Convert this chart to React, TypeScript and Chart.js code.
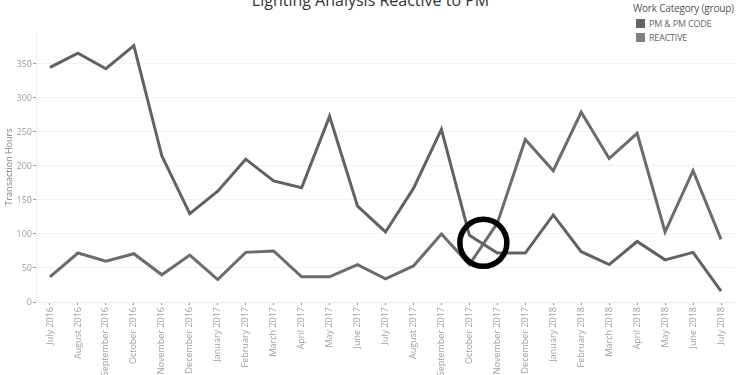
import React, { useEffect, useRef } from "react";
import { Chart, registerables } from "chart.js";

Chart.register(...registerables);

const months = [
  "July 2016", "August 2016", "September 2016", "October 2016", "November 2016", "December 2016",
  "January 2017", "February 2017", "March 2017", "April 2017", "May 2017", "June 2017",
  "July 2017", "August 2017", "September 2017", "October 2017", "November 2017", "December 2017",
  "January 2018", "February 2018", "March 2018", "April 2018", "May 2018", "June 2018", "July 2018",
];

const pmHours = [
  345, 366, 343, 377, 215, 130, 163, 210, 178, 168, 273, 141,
  103, 167, 254, 98, 72, 72, 128, 74, 55, 89, 62, 73, 16,
];

const reactiveHours = [
  37, 72, 60, 71, 40, 69, 33, 73, 75, 37, 37, 55,
  34, 53, 100, 55, 116, 239, 193, 279, 211, 248, 103, 193, 92,
];

// Crossover highlighted with a ring (between Oct and Nov 2017)
const crossIndex = 15.5;
const crossValue = 87;

const seriesNames = ["PM & PM CODE", "REACTIVE"];
const seriesColors = ["#626262", "#6c6c6c"];
const legendSwatches = ["#666666", "#808080"];

const ringPlugin = {
  id: "crossRing",
  afterDatasetsDraw(chart: any) {
    const { ctx, scales } = chart;
    const x = scales.x.getPixelForValue(crossIndex);
    const y = scales.y.getPixelForValue(crossValue);
    ctx.save();
    ctx.beginPath();
    ctx.arc(x, y, 23.5, 0, Math.PI * 2);
    ctx.lineWidth = 5.5;
    ctx.strokeStyle = "#000000";
    ctx.stroke();
    ctx.restore();
  },
};

export default function App() {
  const canvasRef = useRef<HTMLCanvasElement | null>(null);

  useEffect(() => {
    const canvas = canvasRef.current;
    if (!canvas) return;
    const chart = new Chart(canvas, {
      type: "line",
      data: {
        labels: months,
        datasets: [
          {
            label: seriesNames[0],
            data: pmHours,
            borderColor: seriesColors[0],
            backgroundColor: seriesColors[0],
            borderWidth: 3,
            pointRadius: 0,
            tension: 0,
          },
          {
            label: seriesNames[1],
            data: reactiveHours,
            borderColor: seriesColors[1],
            backgroundColor: seriesColors[1],
            borderWidth: 3,
            pointRadius: 0,
            tension: 0,
          },
        ],
      },
      options: {
        animation: false,
        responsive: true,
        maintainAspectRatio: false,
        layout: { padding: { top: 32, right: 2, left: 0, bottom: 0 } },
        plugins: {
          legend: { display: false },
          tooltip: { enabled: false },
          title: { display: false },
        },
        scales: {
          x: {
            type: "category",
            offset: true,
            afterFit: (scale: any) => {
              scale.height = 73;
            },
            border: { display: true, color: "#ececec" },
            grid: {
              drawOnChartArea: false,
              drawTicks: true,
              tickLength: 3,
              tickColor: "#9a9a9a",
            },
            ticks: {
              minRotation: 90,
              maxRotation: 90,
              autoSkip: false,
              padding: 2,
              color: "#a0a0a0",
              font: { family: "'Open Sans', sans-serif", size: 9 },
            },
          },
          y: {
            min: 0,
            max: 397,
            afterFit: (scale: any) => {
              scale.width = 36;
            },
            border: { display: true, color: "#ececec" },
            grid: {
              color: "#f2f2f2",
              drawTicks: true,
              tickLength: 3,
              tickColor: "#9a9a9a",
            },
            ticks: {
              stepSize: 50,
              includeBounds: false,
              padding: 1,
              color: "#a0a0a0",
              font: { family: "'Open Sans', sans-serif", size: 9 },
            },
            title: {
              display: true,
              text: "Transaction Hours",
              color: "#808080",
              padding: { top: 4, bottom: 0 },
              font: { family: "'Open Sans', sans-serif", size: 9 },
            },
          },
        },
      },
      plugins: [ringPlugin],
    });
    return () => chart.destroy();
  }, []);

  return (
    <div
      style={{
        position: "fixed",
        left: 0,
        top: 0,
        width: 737,
        height: 375,
        background: "#ffffff",
        overflow: "hidden",
        fontFamily: "'Open Sans', sans-serif",
      }}
    >
      <div
        style={{
          position: "absolute",
          left: 0,
          width: 737,
          top: -11,
          textAlign: "center",
          fontSize: 16,
          color: "#333333",
          whiteSpace: "nowrap",
          paddingLeft: 2,
        }}
      >
        Lighting Analysis Reactive to PM
      </div>
      <div style={{ position: "absolute", left: 633, top: 1, whiteSpace: "nowrap" }}>
        <div style={{ fontSize: 10, color: "#555555", lineHeight: "15px", letterSpacing: -0.2 }}>
          Work Category (group)
        </div>
        {seriesNames.map((name, i) => (
          <div
            key={name}
            style={{
              display: "flex",
              alignItems: "center",
              height: 14,
              fontSize: 9,
              color: "#666666",
              paddingLeft: 3,
              letterSpacing: -0.2,
            }}
          >
            <span
              style={{
                display: "inline-block",
                width: 9,
                height: 9,
                background: legendSwatches[i],
                marginRight: 4,
              }}
            />
            {name}
          </div>
        ))}
      </div>
      <div style={{ position: "absolute", left: 0, top: 0, width: 737, height: 375 }}>
        <canvas ref={canvasRef} />
      </div>
    </div>
  );
}
